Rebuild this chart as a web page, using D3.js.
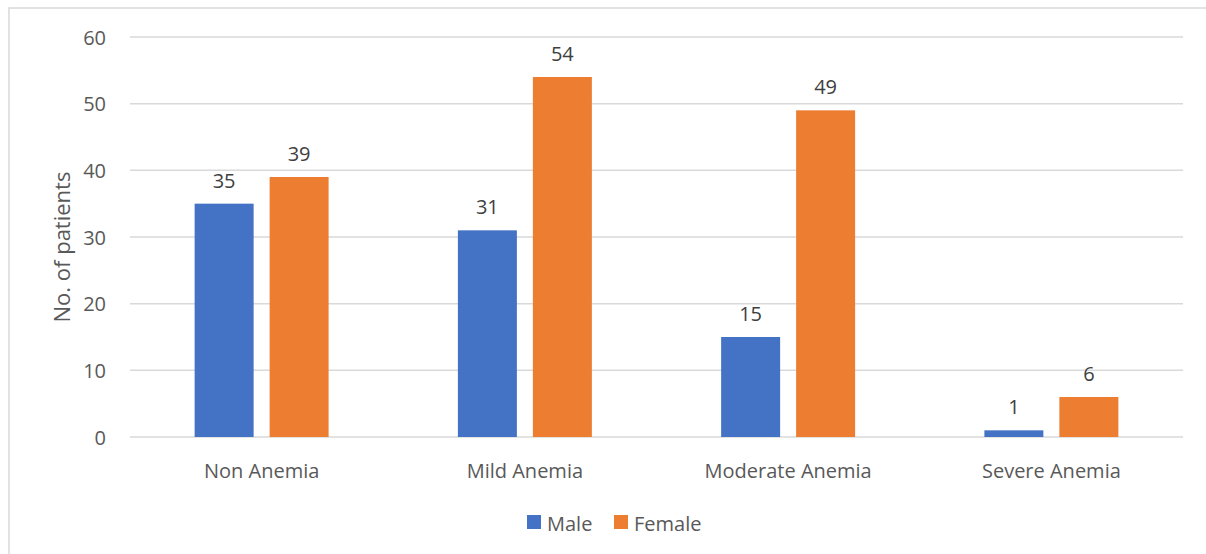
<!DOCTYPE html>
<html><head><meta charset="utf-8">
<script src="https://cdn.jsdelivr.net/npm/d3@7"></script>
<style>body{margin:0;background:#fff;} svg{display:block;font-family:"Open Sans",Carlito,Calibri,sans-serif;}</style>
</head><body><svg id="c" width="1206" height="554"></svg>
<script>
const categories = ["Non Anemia","Mild Anemia","Moderate Anemia","Severe Anemia"];
const seriesNames = ["Male","Female"];
const male = [35,31,15,1];
const female = [39,54,49,6];
const yTicks = [0,10,20,30,40,50,60];
const colors = ["#4472C4","#ED7D31"];

(function(){
const svg = d3.select("#c");
svg.append("rect").attr("x",9).attr("y",8).attr("width",1206).attr("height",560)
  .attr("fill","#fff").attr("stroke","#d9d9d9").attr("stroke-width",1.5);

const pl=130,pr=1183,pt=37,pb=437;
const x = d3.scaleBand().domain(categories).range([pl,pr]);
const xs = d3.scaleBand().domain(seriesNames).range([0,x.bandwidth()]).paddingInner(0.2133).paddingOuter(0.862);
const y = d3.scaleLinear().domain([0,60]).range([pb,pt]);

svg.append("g").selectAll("line").data(yTicks).join("line")
  .attr("x1",pl).attr("x2",pr).attr("y1",d=>y(d)).attr("y2",d=>y(d))
  .attr("stroke","#d9d9d9").attr("stroke-width",1.5);

const yAxis = svg.append("g").attr("transform",`translate(${pl},0)`)
  .call(d3.axisLeft(y).tickValues(yTicks).tickSize(0).tickPadding(24));
yAxis.select(".domain").remove();
yAxis.selectAll("text").attr("font-size",20).attr("fill","#595959").attr("font-family","'Open Sans',sans-serif").attr("dy","0.36em");

const xAxis = svg.append("g").attr("transform",`translate(0,${pb})`)
  .call(d3.axisBottom(x).tickSize(0).tickPadding(0));
xAxis.select(".domain").remove();
xAxis.selectAll("text").attr("font-size",20).attr("fill","#595959").attr("font-family","'Open Sans',sans-serif")
  .attr("y",41).attr("dy",0);

const data = categories.map((c,i)=>({c, vals:[male[i],female[i]]}));
const g = svg.append("g");
data.forEach(d=>{
  d.vals.forEach((v,j)=>{
    const bx = x(d.c)+xs(seriesNames[j]);
    g.append("rect").attr("x",bx).attr("y",y(v)).attr("width",xs.bandwidth()).attr("height",y(0)-y(v)).attr("fill",colors[j]);
    g.append("text").attr("x",bx+xs.bandwidth()/2).attr("y",y(v)-16).attr("text-anchor","middle")
      .attr("font-size",20).attr("fill","#404040").text(v);
  });
});

svg.append("text").attr("transform",`translate(70,247) rotate(-90)`)
  .attr("text-anchor","middle").attr("font-size",22).attr("fill","#595959").text("No. of patients");

const legX=[527,614];
seriesNames.forEach((s,j)=>{
  svg.append("rect").attr("x",legX[j]).attr("y",515).attr("width",14).attr("height",14).attr("fill",colors[j]);
  svg.append("text").attr("x",legX[j]+20).attr("y",531).attr("font-size",20).attr("fill","#595959").text(s);
});
})();
</script></body></html>
